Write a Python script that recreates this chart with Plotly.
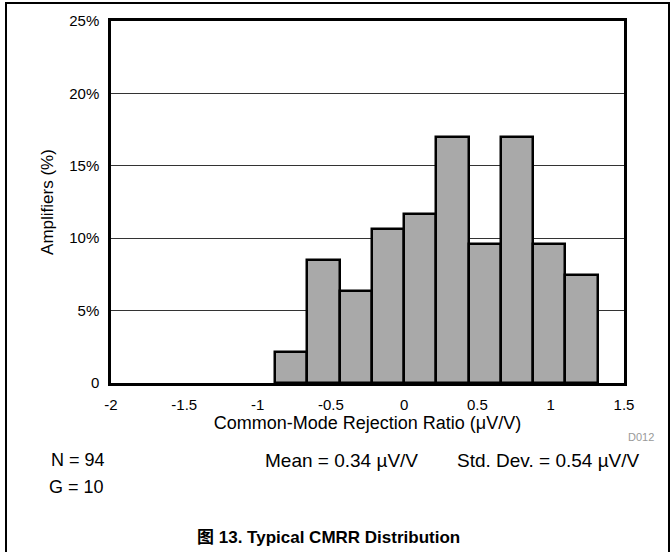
import plotly.graph_objects as go

# ---- data ----
bin_centers = [-0.77, -0.55, -0.33, -0.11, 0.11, 0.33, 0.55, 0.77, 0.99, 1.21]
amplifiers_pct = [2.13, 8.51, 6.38, 10.64, 11.70, 17.02, 9.57, 17.02, 9.57, 7.45]
bin_width = 0.22
x_tick_vals = [-2, -1.5, -1, -0.5, 0, 0.5, 1, 1.5]
x_tick_text = ["-2", "-1.5", "-1", "-0.5", "0", "0.5", "1", "1.5"]
y_tick_vals = [0, 5, 10, 15, 20, 25]
y_tick_text = ["0", "5%", "10%", "15%", "20%", "25%"]

W, H = 671, 552
L, R, T, B = 111, 624, 21, 383
FONT = "Liberation Sans, Arial, sans-serif"


def px(x):
    return (x - L) / (R - L)


def py(y):
    return (B - y) / (B - T)


fig = go.Figure()
fig.add_trace(go.Bar(
    x=bin_centers, y=amplifiers_pct, width=bin_width,
    marker=dict(color="#a9a9a9", line=dict(color="black", width=2.5)),
    hoverinfo="x+y",
))

fig.update_layout(
    width=W, height=H,
    margin=dict(l=L, r=W - R, t=T, b=H - B, pad=0),
    paper_bgcolor="white", plot_bgcolor="white",
    font=dict(family=FONT, size=15, color="black"),
    showlegend=False,
    bargap=0,
)
fig.update_xaxes(
    range=[-2, 1.5], tickvals=x_tick_vals, ticktext=x_tick_text,
    showgrid=False, zeroline=False, showline=True, linecolor="black",
    linewidth=2.5, mirror=True, ticks="", ticklabelstandoff=6,
    tickfont=dict(size=15),
    title=dict(text="Common-Mode Rejection Ratio (μV/V)", standoff=4,
               font=dict(size=18)),
)
fig.update_yaxes(
    range=[0, 25], tickvals=y_tick_vals, ticktext=y_tick_text,
    showgrid=True, gridcolor="#333333", gridwidth=1, zeroline=False,
    showline=True, linecolor="black", linewidth=2.5, mirror=True,
    ticks="", ticklabelstandoff=6, tickfont=dict(size=15),
    title=dict(text="Amplifiers (%)", standoff=12, font=dict(size=17)),
)

annos = [
    dict(text="D012", x=px(641), y=py(437), font=dict(size=11, color="#999999")),
    dict(text="N = 94", x=px(78), y=py(460), font=dict(size=18)),
    dict(text="Mean = 0.34 µV/V", x=px(341), y=py(460), font=dict(size=19)),
    dict(text="Std. Dev. = 0.54 µV/V", x=px(548), y=py(460), font=dict(size=19)),
    dict(text="G = 10", x=px(76), y=py(487), font=dict(size=18)),
    dict(text="<b>图 13. Typical CMRR Distribution</b>", x=px(328), y=py(537),
         font=dict(size=17, family="Liberation Sans, Noto Sans CJK SC, sans-serif")),
]
for a in annos:
    fig.add_annotation(xref="paper", yref="paper", showarrow=False,
                       xanchor="center", yanchor="middle", **a)

fig.add_shape(type="rect", xref="paper", yref="paper",
              x0=px(6), x1=px(669), y0=py(3), y1=py(600),
              line=dict(color="black", width=2), layer="below")

fig.write_html(
    "out.html",
    config={"displayModeBar": False},
    post_script="document.body.style.margin='0';document.body.style.overflow='hidden';",
)
